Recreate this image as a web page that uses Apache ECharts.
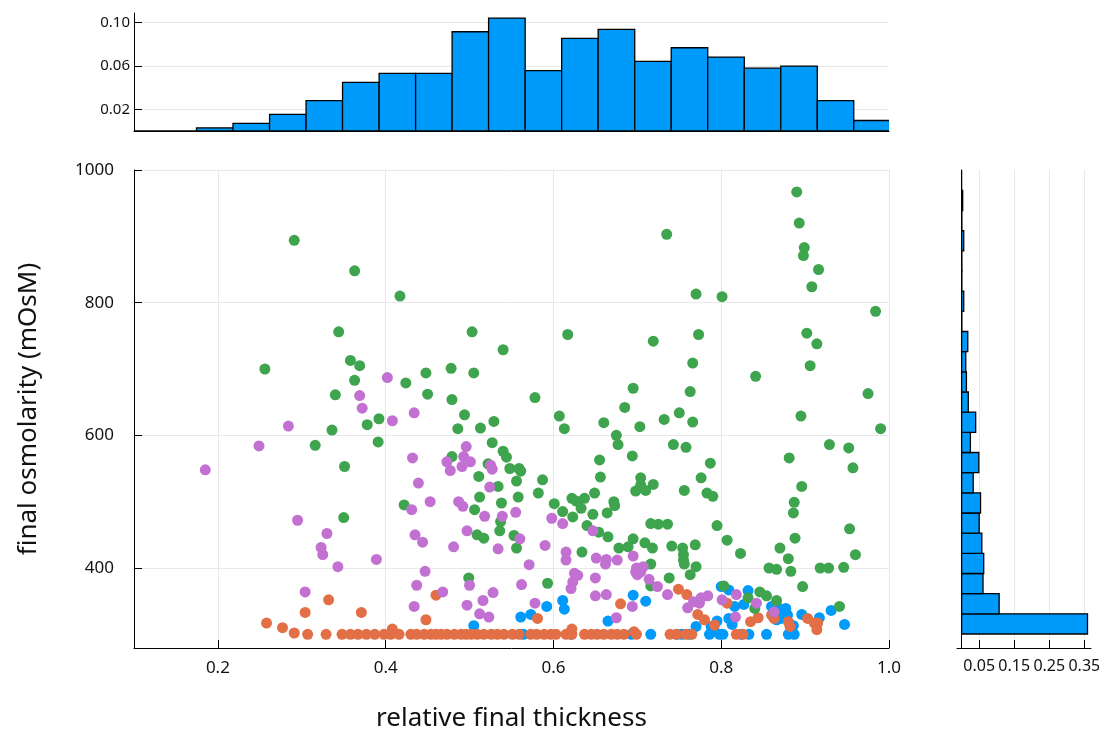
<!DOCTYPE html>
<html><head><meta charset="utf-8">
<script src="https://cdn.jsdelivr.net/npm/echarts@6/dist/echarts.min.js"></script>
<style>html,body{margin:0;padding:0;background:#fff}#c{width:1099px;height:731px}</style>
</head><body><div id="c"></div>
<script>
// ---- data ----
const xTicks = [0.2, 0.4, 0.6, 0.8, 1.0];
const yTicks = [400, 600, 800, 1000];
const topTicks = [0.02, 0.06, 0.10];
const rightTicks = [0.05, 0.15, 0.25, 0.35];

// top marginal histogram (relative final thickness), probability per bin
const topEdges = [0.0875, 0.131, 0.1745, 0.218, 0.2616, 0.3051, 0.3486, 0.3922, 0.4357, 0.4792, 0.5227,
  0.5663, 0.6098, 0.6533, 0.6969, 0.7404, 0.7839, 0.8275, 0.871, 0.9145, 0.958, 1.0016];
const topProb = [0, 0, 0.0028, 0.0071, 0.0154, 0.028, 0.045, 0.0533, 0.0533, 0.0917, 0.1043,
  0.0557, 0.0855, 0.0938, 0.0643, 0.0769, 0.0683, 0.058, 0.06, 0.028, 0.0097];

// right marginal histogram (final osmolarity), probability per bin
const rightEdges = [300.5, 330.9, 361.3, 391.7, 422.1, 452.5, 482.9, 513.3, 543.7, 574.1, 604.5, 634.9,
  665.3, 695.7, 726.1, 756.5, 786.9, 817.3, 847.7, 878.1, 908.5, 938.9, 969.3, 999.7];
const rightProb = [0.359, 0.107, 0.061, 0.063, 0.0576, 0.05, 0.054, 0.033, 0.049, 0.025, 0.040, 0.019,
  0.0137, 0.0118, 0.0175, 0.0008, 0.006, 0.0008, 0.0008, 0.006, 0.0008, 0.003, 0];

const bluePts = [[0.505,313],[0.561,326],[0.573,330],[0.592,342],[0.611,351],[0.613,338],[0.665,320],[0.695,359],
  [0.710,350],[0.800,372],[0.809,367],[0.832,366],[0.816,342],[0.827,345],[0.860,342],[0.869,339],[0.877,339],
  [0.873,333],[0.867,332],[0.879,329],[0.871,324],[0.866,322],[0.896,330],[0.917,325],[0.931,336],[0.947,315],
  [0.809,324],[0.813,315],[0.795,320],[0.788,312],[0.792,304],[0.770,312],[0.886,313],
  [0.564,300],[0.621,300],[0.693,300],[0.716,300],[0.747,300],[0.753,300],[0.762,300],[0.786,300],[0.798,300],
  [0.802,300],[0.824,300],[0.833,300],[0.854,300],[0.880,300],[0.887,300]];

const orangePts = [[0.258,317],[0.277,310],[0.291,302],[0.332,352],[0.304,333],[0.371,333],[0.408,308],[0.460,359],
  [0.448,322],[0.581,324],[0.680,346],[0.622,308],[0.749,368],[0.759,360],[0.772,330],[0.780,322],[0.807,347],
  [0.835,319],[0.844,325],[0.860,329],[0.863,324],[0.880,319],[0.882,312],[0.903,324],[0.911,317],[0.915,317],
  [0.914,307],[0.792,314],[0.696,304],
  [0.307,300],[0.329,300],[0.348,300],[0.358,300],[0.367,300],[0.377,300],[0.387,300],[0.398,300],[0.406,300],
  [0.416,300],[0.430,300],[0.437,300],[0.446,300],[0.454,300],[0.460,300],[0.466,300],[0.473,300],[0.482,300],
  [0.490,300],[0.496,300],[0.502,300],[0.509,300],[0.517,300],[0.526,300],[0.533,300],[0.541,300],[0.551,300],
  [0.559,300],[0.573,300],[0.580,300],[0.589,300],[0.597,300],[0.603,300],[0.615,300],[0.622,300],[0.637,300],
  [0.645,300],[0.652,300],[0.660,300],[0.669,300],[0.676,300],[0.684,300],[0.699,300],[0.739,300],[0.747,300],
  [0.758,300],[0.765,300],[0.818,300],[0.826,300]];

const greenPts = [[0.291,894],[0.363,848],[0.344,756],[0.256,700],[0.358,713],[0.369,705],[0.363,683],[0.340,661],
  [0.392,625],[0.336,608],[0.378,616],[0.316,585],[0.391,590],[0.351,553],[0.350,476],
  [0.417,810],[0.503,756],[0.540,729],[0.617,752],[0.424,679],[0.448,694],[0.478,701],[0.505,694],[0.450,662],
  [0.479,654],[0.578,657],[0.695,671],[0.685,642],[0.494,631],[0.607,629],
  [0.890,967],[0.735,903],[0.893,920],[0.899,883],[0.898,871],[0.916,850],[0.908,824],[0.770,813],[0.801,809],
  [0.984,787],[0.902,754],[0.914,738],[0.773,752],[0.719,742],[0.766,709],[0.906,705],[0.841,689],[0.763,666],
  [0.975,663],[0.750,634],[0.895,629],
  [0.486,610],[0.513,611],[0.529,621],[0.613,610],[0.660,619],[0.703,613],[0.675,600],[0.677,586],[0.694,569],
  [0.655,563],[0.656,537],[0.649,513],[0.704,536],[0.698,516],
  [0.527,589],[0.540,576],[0.544,567],[0.479,568],[0.522,557],[0.548,550],[0.559,550],[0.561,546],[0.511,538],
  [0.556,531],[0.587,533],[0.534,523],[0.582,513],[0.558,507],[0.512,507],[0.538,498],[0.422,495],[0.506,488],
  [0.601,497],[0.622,505],[0.627,501],[0.637,505],[0.633,490],[0.611,485],[0.623,477],[0.647,481],[0.672,500],
  [0.673,494],[0.664,483],[0.537,470],[0.536,456],[0.509,450],[0.517,445],[0.553,449],[0.556,430],[0.640,464],
  [0.654,454],[0.665,447],[0.634,424],[0.678,430],[0.689,432],[0.695,444],[0.499,385],[0.593,377],
  [0.732,624],[0.766,620],[0.990,610],[0.743,586],[0.758,582],[0.929,586],[0.952,581],[0.881,566],[0.787,558],
  [0.957,551],[0.776,536],[0.704,525],[0.710,517],[0.719,526],[0.756,517],[0.783,513],[0.790,508],[0.896,523],
  [0.887,499],[0.886,483],[0.716,467],[0.725,466],[0.736,466],[0.795,464],[0.953,459],[0.709,438],[0.718,430],
  [0.741,433],[0.754,430],[0.769,435],[0.807,442],[0.755,420],[0.755,412],[0.756,406],[0.770,402],[0.763,390],
  [0.823,422],[0.870,430],[0.888,445],[0.880,414],[0.960,420],[0.857,400],[0.866,398],[0.883,395],[0.918,400],
  [0.928,400],[0.946,401],[0.897,372],[0.716,406],[0.738,385],[0.716,373],[0.803,373],[0.846,364],[0.854,358],
  [0.832,355],[0.866,351],[0.840,339],[0.941,342]];

const purplePts = [[0.402,687],[0.369,660],[0.372,641],[0.408,622],[0.284,614],[0.249,584],[0.185,548],[0.295,472],
  [0.330,452],[0.323,431],[0.325,420],[0.343,402],[0.389,413],[0.304,364],
  [0.434,634],[0.432,566],[0.439,528],[0.453,500],[0.431,488],[0.435,450],[0.444,439],[0.447,395],[0.437,374],
  [0.434,342],[0.468,364],[0.481,432],[0.496,583],[0.493,568],[0.473,560],[0.477,547],[0.491,553],[0.501,560],
  [0.487,500],[0.492,493],[0.497,456],[0.500,374],[0.497,344],[0.525,555],[0.527,549],[0.524,522],[0.518,478],
  [0.539,478],[0.555,484],[0.534,429],[0.560,444],[0.528,363],[0.516,351],[0.512,331],[0.523,326],[0.562,375],
  [0.571,405],[0.578,347],[0.590,434],[0.598,475],[0.611,467],[0.615,424],[0.615,412],[0.625,392],[0.629,389],
  [0.623,379],[0.621,369],[0.650,385],[0.650,358],[0.663,360],[0.651,415],[0.663,413],[0.662,406],[0.676,412],
  [0.695,418],[0.698,394],[0.694,342],[0.675,325],[0.647,456],[0.699,400],
  [0.707,402],[0.700,390],[0.704,394],[0.714,383],[0.724,372],[0.736,360],[0.760,340],[0.767,349],[0.776,355],
  [0.784,358],[0.774,347],[0.801,352],[0.818,360],[0.817,326],[0.842,347],[0.863,334]];

// ---- chart ----
const FONT = 'Noto Sans';
const TXT = '#111';
const GRIDC = '#e8e8e8';
const BAR = '#009AFA';
const chart = echarts.init(document.getElementById('c'), null, {renderer: 'canvas'});

const axisLineS = {show: true, lineStyle: {color: '#000', width: 1}};
function scatter(name, pts, color) {
  return {type: 'scatter', name, data: pts, xAxisIndex: 0, yAxisIndex: 0, symbolSize: 11,
    itemStyle: {color, opacity: 1}, emphasis: {disabled: true}, animation: false};
}

chart.setOption({
  animation: false,
  backgroundColor: '#fff',
  textStyle: {fontFamily: FONT},
  grid: [
    {left: 134, top: 170, width: 755, height: 478, containLabel: false, outerBoundsMode: 'none'},
    {left: 134, top: 13, width: 755, height: 118, containLabel: false, outerBoundsMode: 'none'},
    {left: 957, top: 170, width: 134, height: 478, containLabel: false, outerBoundsMode: 'none'}
  ],
  xAxis: [
    {type: 'value', gridIndex: 0, min: 0.1, max: 1.0,
      axisLine: axisLineS,
      axisTick: {show: true, inside: true, length: 8, customValues: xTicks, lineStyle: {color: '#000'}},
      axisLabel: {customValues: xTicks, formatter: v => v.toFixed(1), fontSize: 17, color: TXT, margin: 12, fontFamily: FONT},
      splitLine: {show: true, lineStyle: {color: GRIDC, width: 1}},
      name: 'relative final thickness', nameLocation: 'middle', nameGap: 58,
      nameTextStyle: {fontSize: 26, color: TXT, fontFamily: FONT}},
    {type: 'value', gridIndex: 1, min: 0.1, max: 1.0,
      axisLine: axisLineS, axisTick: {show: false}, axisLabel: {show: false}, splitLine: {show: false}},
    {type: 'value', gridIndex: 2, min: -0.0132, max: 0.369,
      axisLine: axisLineS,
      axisTick: {show: true, inside: true, length: 8, customValues: rightTicks, lineStyle: {color: '#000'}},
      axisLabel: {customValues: rightTicks, formatter: v => v.toFixed(2), fontSize: 16, color: TXT, margin: 10, fontFamily: FONT},
      splitLine: {show: true, lineStyle: {color: GRIDC, width: 1}}}
  ],
  yAxis: [
    {type: 'value', gridIndex: 0, min: 279.4, max: 1000,
      axisLine: axisLineS,
      axisTick: {show: true, inside: true, length: 8, customValues: yTicks, lineStyle: {color: '#000'}},
      axisLabel: {customValues: yTicks, formatter: v => String(v), fontSize: 17, color: TXT, margin: 20, fontFamily: FONT},
      splitLine: {show: true, lineStyle: {color: GRIDC, width: 1}},
      name: 'final osmolarity (mOsM)', nameLocation: 'middle', nameGap: 92, nameRotate: 90,
      nameTextStyle: {fontSize: 26, color: TXT, fontFamily: FONT}},
    {type: 'value', gridIndex: 1, min: 0, max: 0.109,
      axisLine: axisLineS,
      axisTick: {show: true, inside: true, length: 8, customValues: topTicks, lineStyle: {color: '#000'}},
      axisLabel: {customValues: topTicks, formatter: v => v.toFixed(2), fontSize: 15, color: TXT, margin: 4, fontFamily: FONT},
      splitLine: {show: true, lineStyle: {color: GRIDC, width: 1}}},
    {type: 'value', gridIndex: 2, min: 279.4, max: 1000,
      axisLine: axisLineS, axisTick: {show: false}, axisLabel: {show: false}, splitLine: {show: false}}
  ],
  series: [
    {type: 'custom', xAxisIndex: 1, yAxisIndex: 1, clip: true, animation: false,
      data: topProb.map((p, i) => [topEdges[i], topEdges[i + 1], p]),
      encode: {x: [0, 1], y: 2},
      renderItem: (params, api) => {
        const a = api.coord([api.value(0), api.value(2)]);
        const b = api.coord([api.value(1), 0]);
        return {type: 'rect', shape: {x: a[0], y: a[1], width: b[0] - a[0], height: b[1] - a[1]},
          style: {fill: BAR, stroke: '#000', lineWidth: 1.3}};
      }},
    {type: 'custom', xAxisIndex: 2, yAxisIndex: 2, clip: true, animation: false,
      data: rightProb.map((p, i) => [rightEdges[i], rightEdges[i + 1], p]),
      encode: {x: 2, y: [0, 1]},
      renderItem: (params, api) => {
        const a = api.coord([0, api.value(1)]);
        const b = api.coord([api.value(2), api.value(0)]);
        return {type: 'rect', shape: {x: a[0], y: a[1], width: b[0] - a[0], height: b[1] - a[1]},
          style: {fill: BAR, stroke: '#000', lineWidth: 1.3}};
      }},
    scatter('y1', bluePts, '#009AFA'),
    scatter('y2', orangePts, '#E26F46'),
    scatter('y3', greenPts, '#3EA44E'),
    scatter('y4', purplePts, '#C271D2')
  ]
});
</script>
</body></html>
